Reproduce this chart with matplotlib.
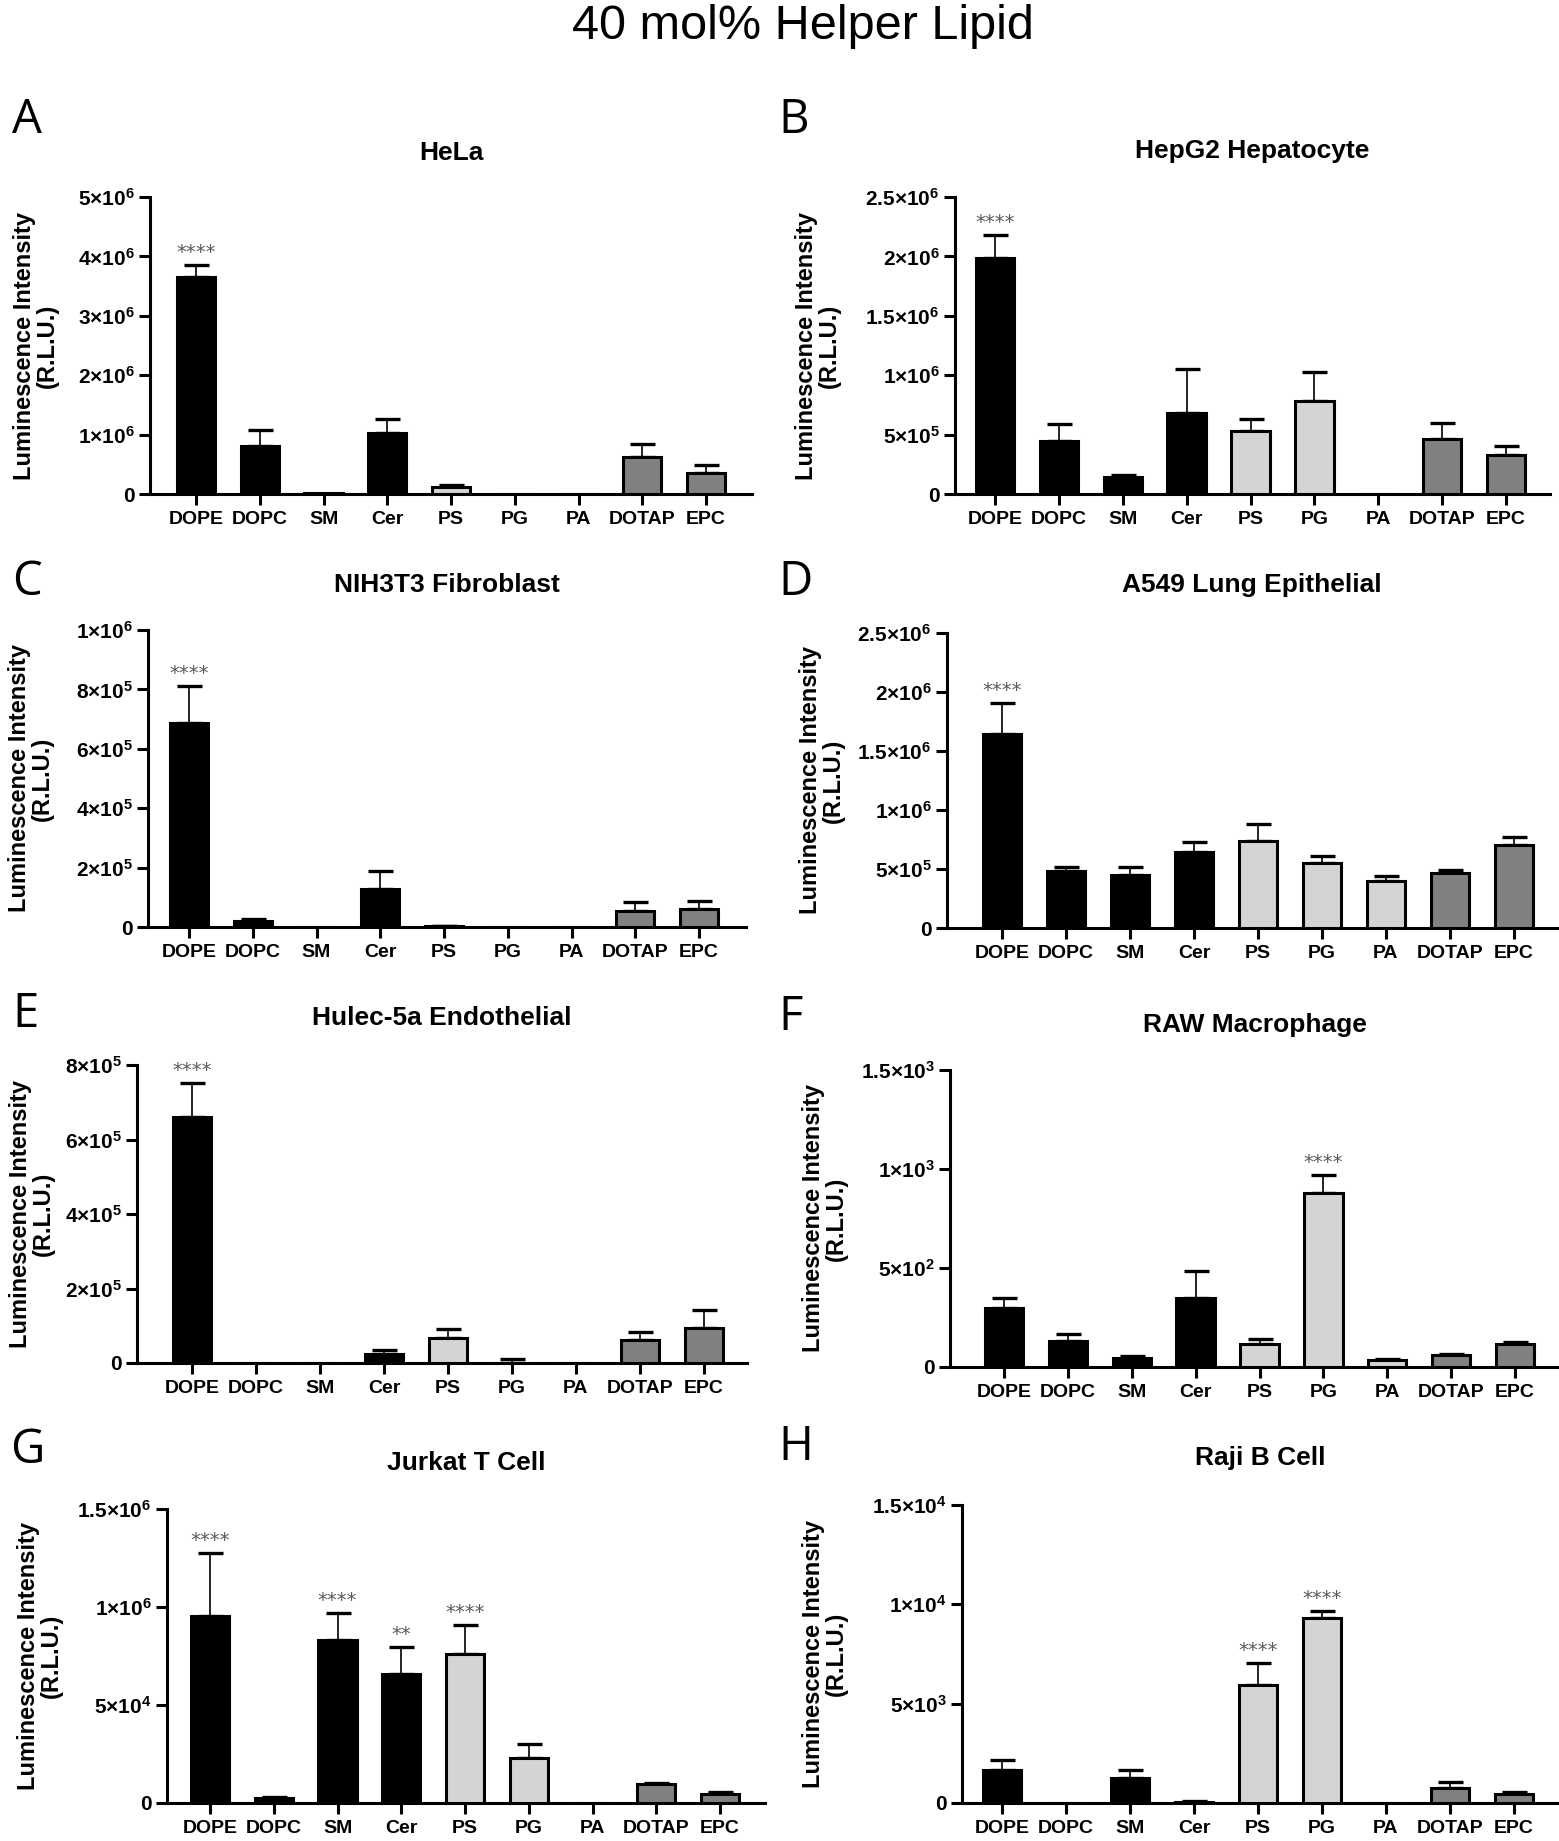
import numpy as np
import matplotlib
matplotlib.use("Agg")
import matplotlib.pyplot as plt

W, H = 1559, 1841  # output size in px (dpi 100)

LIPIDS = ["DOPE", "DOPC", "SM", "Cer", "PS", "PG", "PA", "DOTAP", "EPC"]
BAR_COLORS = ["#000000"] * 4 + ["#d4d4d4"] * 3 + ["#808080"] * 2

# ------------------------------------------------------------------
# Data: bar mean and top of the (upper) error bar
# ------------------------------------------------------------------
hela_mean = [3.66e6, 0.80e6, 0.02e6, 1.03e6, 0.12e6, 0, 0, 0.63e6, 0.36e6]
hela_top = [3.86e6, 1.07e6, 0.02e6, 1.26e6, 0.15e6, 0, 0, 0.85e6, 0.49e6]
hela_sig = {"DOPE": "****"}
hela_ticks = [0, 1e6, 2e6, 3e6, 4e6, 5e6]
hela_ticklabels = ["0", "1×10$^{6}$", "2×10$^{6}$", "3×10$^{6}$", "4×10$^{6}$", "5×10$^{6}$"]

hepg2_mean = [1.99e6, 0.45e6, 0.146e6, 0.685e6, 0.534e6, 0.784e6, 0, 0.46e6, 0.33e6]
hepg2_top = [2.18e6, 0.59e6, 0.16e6, 1.056e6, 0.63e6, 1.03e6, 0, 0.60e6, 0.40e6]
hepg2_sig = {"DOPE": "****"}
hepg2_ticks = [0, 0.5e6, 1e6, 1.5e6, 2e6, 2.5e6]
hepg2_ticklabels = ["0", "5×10$^{5}$", "1×10$^{6}$", "1.5×10$^{6}$", "2×10$^{6}$", "2.5×10$^{6}$"]

nih_mean = [6.88e5, 0.19e5, 0, 1.27e5, 0.03e5, 0, 0, 0.53e5, 0.60e5]
nih_top = [8.13e5, 0.26e5, 0, 1.88e5, 0.05e5, 0, 0, 0.84e5, 0.87e5]
nih_sig = {"DOPE": "****"}
nih_ticks = [0, 2e5, 4e5, 6e5, 8e5, 1e6]
nih_ticklabels = ["0", "2×10$^{5}$", "4×10$^{5}$", "6×10$^{5}$", "8×10$^{5}$", "1×10$^{6}$"]

a549_mean = [1.64e6, 0.486e6, 0.45e6, 0.64e6, 0.74e6, 0.55e6, 0.40e6, 0.47e6, 0.706e6]
a549_top = [1.91e6, 0.52e6, 0.52e6, 0.726e6, 0.88e6, 0.61e6, 0.44e6, 0.49e6, 0.774e6]
a549_sig = {"DOPE": "****"}
a549_ticks = [0, 0.5e6, 1e6, 1.5e6, 2e6, 2.5e6]
a549_ticklabels = hepg2_ticklabels

hulec_mean = [6.61e5, 0, 0, 0.25e5, 0.68e5, 0.01e5, 0, 0.63e5, 0.95e5]
hulec_top = [7.53e5, 0, 0, 0.36e5, 0.90e5, 0.12e5, 0, 0.83e5, 1.42e5]
hulec_sig = {"DOPE": "****"}
hulec_ticks = [0, 2e5, 4e5, 6e5, 8e5]
hulec_ticklabels = ["0", "2×10$^{5}$", "4×10$^{5}$", "6×10$^{5}$", "8×10$^{5}$"]

raw_mean = [300, 130, 47, 351, 118, 877, 37, 59, 118]
raw_top = [346, 165, 54, 486, 143, 970, 42, 64, 126]
raw_sig = {"PG": "****"}
raw_ticks = [0, 500, 1000, 1500]
raw_ticklabels = ["0", "5×10$^{2}$", "1×10$^{3}$", "1.5×10$^{3}$"]

jurkat_mean = [0.954e6, 0.025e6, 0.832e6, 0.659e6, 0.759e6, 0.229e6, 0, 0.097e6, 0.046e6]
jurkat_top = [1.277e6, 0.030e6, 0.968e6, 0.798e6, 0.907e6, 0.300e6, 0, 0.100e6, 0.056e6]
jurkat_sig = {"DOPE": "****", "SM": "****", "Cer": "**", "PS": "****"}
jurkat_ticks = [0, 0.5e6, 1e6, 1.5e6]
jurkat_ticklabels = ["0", "5×10$^{4}$", "1×10$^{6}$", "1.5×10$^{6}$"]

raji_mean = [1675, 20, 1256, 60, 5946, 9296, 0, 754, 452]
raji_top = [2178, 20, 1642, 80, 7035, 9665, 0, 1039, 536]
raji_sig = {"PS": "****", "PG": "****"}
raji_ticks = [0, 5000, 10000, 15000]
raji_ticklabels = ["0", "5×10$^{3}$", "1×10$^{4}$", "1.5×10$^{4}$"]

# ------------------------------------------------------------------
# Panel layout in output pixels:
# axis left/right/top/zero, x of DOPE and EPC bars,
# y-label centre x, title baseline y, letter x, letter baseline y
# ------------------------------------------------------------------
panels = [
    ("A", "HeLa", hela_mean, hela_top, hela_sig, hela_ticks, hela_ticklabels,
     (150, 752, 197, 494, 196, 706, 36, 160, 12, 133)),
    ("B", "HepG2 Hepatocyte", hepg2_mean, hepg2_top, hepg2_sig, hepg2_ticks, hepg2_ticklabels,
     (955, 1550, 197, 494, 995, 1506, 818, 158, 778, 133)),
    ("C", "NIH3T3 Fibroblast", nih_mean, nih_top, nih_sig, nih_ticks, nih_ticklabels,
     (148, 746, 630, 927, 189, 699, 31, 592, 12, 595)),
    ("D", "A549 Lung Epithelial", a549_mean, a549_top, a549_sig, a549_ticks, a549_ticklabels,
     (947, 1557, 633, 928, 1002, 1514, 822, 592, 778, 595)),
    ("E", "Hulec-5a Endothelial", hulec_mean, hulec_top, hulec_sig, hulec_ticks, hulec_ticklabels,
     (137, 747, 1065, 1363, 192, 704, 32, 1025, 12, 1027)),
    ("F", "RAW Macrophage", raw_mean, raw_top, raw_sig, raw_ticks, raw_ticklabels,
     (950, 1559, 1070, 1367, 1004, 1515, 825, 1032, 778, 1030)),
    ("G", "Jurkat T Cell", jurkat_mean, jurkat_top, jurkat_sig, jurkat_ticks, jurkat_ticklabels,
     (167, 765, 1509, 1803, 210, 720, 40, 1470, 10, 1463)),
    ("H", "Raji B Cell", raji_mean, raji_top, raji_sig, raji_ticks, raji_ticklabels,
     (962, 1559, 1505, 1803, 1002, 1514, 825, 1465, 778, 1460)),
]

plt.rcParams["font.family"] = ["Liberation Sans", "DejaVu Sans"]
plt.rcParams["font.weight"] = "bold"
plt.rcParams["mathtext.fontset"] = "custom"
plt.rcParams["mathtext.rm"] = "Liberation Sans"
plt.rcParams["mathtext.it"] = "Liberation Sans"
plt.rcParams["mathtext.bf"] = "Liberation Sans:bold"

fig = plt.figure(figsize=(W / 100, H / 100), dpi=100)

fig.text(803 / W, 1 - 39 / H, "40 mol% Helper Lipid", ha="center", va="baseline",
         fontsize=35, fontweight="normal")

x = np.arange(len(LIPIDS))
for letter, title, mean, top, sig, ticks, ticklabels, lay in panels:
    left, right, ytop, yzero, dope_x, epc_x, ylab_x, title_y, let_x, let_y = lay
    ax = fig.add_axes([left / W, 1 - yzero / H, (right - left) / W, (yzero - ytop) / H])
    sp = (epc_x - dope_x) / 8.0

    mean = np.array(mean, dtype=float)
    top = np.array(top, dtype=float)
    ax.bar(x, mean, width=0.6, color=BAR_COLORS, edgecolor="black",
           linewidth=2.2, zorder=3)
    has_err = top > mean
    ax.errorbar(x[has_err], mean[has_err],
                yerr=[np.zeros(has_err.sum()), (top - mean)[has_err]],
                fmt="none", ecolor="black", elinewidth=1.2, capsize=9,
                capthick=2.4, zorder=2)
    for name, stars in sig.items():
        i = LIPIDS.index(name)
        ax.annotate(stars, (i, top[i]), xytext=(0, 2), textcoords="offset points",
                    ha="center", va="bottom", fontsize=14, color="#5a5a5a",
                    fontweight="normal", family="DejaVu Sans")

    ax.set_xlim((left - dope_x) / sp, 8 + (right - epc_x) / sp)
    ax.set_ylim(0, ticks[-1])
    ax.set_yticks(ticks)
    ax.set_yticklabels(ticklabels)
    ax.set_xticks(x)
    ax.set_xticklabels(LIPIDS)
    for s in ("top", "right"):
        ax.spines[s].set_visible(False)
    for s in ("left", "bottom"):
        ax.spines[s].set_linewidth(2.2)
    ax.tick_params(axis="both", width=2.2, length=8)
    ax.tick_params(axis="y", pad=3, labelsize=15)
    ax.tick_params(axis="x", pad=4, labelsize=14)

    cx = (left + right) / 2
    fig.text(cx / W, 1 - title_y / H, title, ha="center", va="baseline",
             fontsize=19, fontweight="bold")
    fig.text(ylab_x / W, 1 - (ytop + yzero) / 2 / H,
             "Luminescence Intensity\n(R.L.U.)", rotation=90, ha="center",
             va="center", fontsize=17, fontweight="bold", linespacing=1.0,
             multialignment="center")
    fig.text(let_x / W, 1 - let_y / H, letter, ha="left", va="baseline",
             fontsize=34, family="Open Sans", fontweight="normal")

fig.savefig("out.png", dpi=100)
